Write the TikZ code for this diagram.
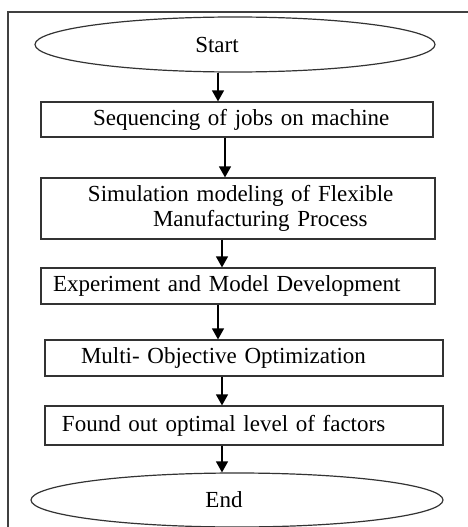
\documentclass[tikz,border=0pt]{standalone}
\usepackage{fontspec}
\setmainfont{Liberation Serif}
\usetikzlibrary{arrows.meta,shapes.geometric}

\begin{document}
\begin{tikzpicture}[x=1pt,y=1pt,
    every node/.style={font=\fontsize{23}{25}\selectfont},
    terminal/.style={draw=black!80,line width=1.2pt,ellipse,inner sep=0pt},
    stepbox/.style={draw=black!80,line width=1.2pt,rectangle,inner xsep=0pt,inner ysep=0pt,align=left},
    flow/.style={line width=1.2pt,-{Triangle[width=12pt,length=11pt]}}]
    %\draw[help lines] (0,0) grid (468,-527);
    \useasboundingbox (0,0) rectangle (468,-527);
    \clip (0,0) rectangle (468,-527);
       \draw[line width=1.5pt,black!75] (8,-12) rectangle (490,-560);
       \node[terminal,minimum width=400pt,minimum height=55pt,label={[xshift=-18pt]center:Start}] (start) at (235,-44.5) {};
       \node[stepbox,text width=392pt,minimum height=35pt] (seq) at (237,-119.5) {\hspace*{52pt}Sequencing of jobs on machine};
       \node[stepbox,text width=394pt,minimum height=61pt] (sim) at (238,-208.5) {\hspace*{47pt}Simulation modeling of Flexible\\\hspace*{112pt}Manufacturing Process};
       \node[stepbox,text width=394pt,minimum height=36pt] (exp) at (238,-286) {\hspace*{12pt}Experiment and Model Development};
       \node[stepbox,text width=398pt,minimum height=36pt] (moo) at (244,-358) {\hspace*{36pt}Multi- Objective Optimization};
       \node[stepbox,text width=398pt,minimum height=39pt] (fnd) at (244,-425.5) {\hspace*{17pt}Found out optimal level of factors};
       \node[terminal,minimum width=412pt,minimum height=54pt,label={[xshift=-13pt]center:End}] (end) at (237,-500) {};
       \draw[flow] ([xshift=-17pt]start.south) -- ([xshift=-19pt]seq.north);
       \draw[flow] ([xshift=-12pt]seq.south) -- ([xshift=-13pt]sim.north);
       \draw[flow] ([xshift=-16pt]sim.south) -- ([xshift=-16pt]exp.north);
       \draw[flow] ([xshift=-20pt]exp.south) -- ([xshift=-26pt]moo.north);
       \draw[flow] ([xshift=-22pt]moo.south) -- ([xshift=-22pt]fnd.north);
       \draw[flow] ([xshift=-22pt]fnd.south) -- ([xshift=-15pt]end.north);
\end{tikzpicture}
\end{document}
